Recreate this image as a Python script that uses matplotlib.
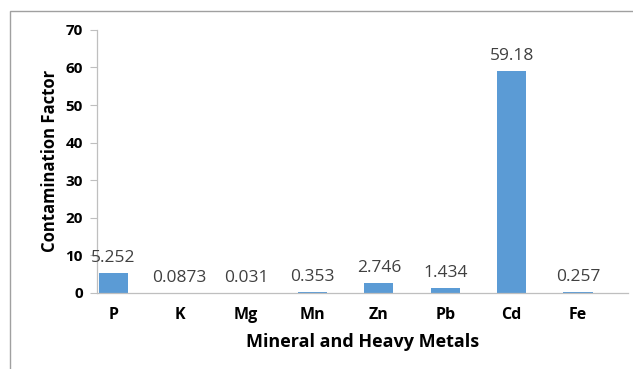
import matplotlib.pyplot as plt
from matplotlib.patches import Rectangle

plt.rcParams["font.family"] = "Open Sans"

# Contamination factor per element
metals = ["P", "K", "Mg", "Mn", "Zn", "Pb", "Cd", "Fe"]
cf_values = [5.252, 0.0873, 0.031, 0.353, 2.746, 1.434, 59.18, 0.257]
cf_labels = ["5.252", "0.0873", "0.031", "0.353", "2.746", "1.434", "59.18", "0.257"]
y_ticks = [0, 10, 20, 30, 40, 50, 60, 70]

BAR_COLOR = "#5B9BD5"
AXIS_GRAY = "#BFBFBF"

fig = plt.figure(figsize=(6.33, 3.69), dpi=100)
ax = fig.add_axes([0.153, 0.206, 0.839, 0.713])

x = range(len(metals))
bars = ax.bar(x, cf_values, width=0.44, color=BAR_COLOR, zorder=2)

for bar, lab in zip(bars, cf_labels):
    ax.annotate(lab, (bar.get_x() + bar.get_width() / 2, bar.get_height()),
                xytext=(0, 5), textcoords="offset points",
                ha="center", va="bottom", fontsize=12.5, color="#404040")

ax.set_xlim(-0.248, 7.753)
ax.set_ylim(0, 70)
ax.set_yticks(y_ticks)
ax.set_xticks(list(x))
ax.set_xticklabels(metals, fontsize=11.5, fontweight="bold")
ax.set_yticklabels([str(t) for t in y_ticks], fontsize=11, fontweight="bold")

ax.tick_params(axis="x", length=0, pad=10)
ax.tick_params(axis="y", length=5, width=0.8, color=AXIS_GRAY, pad=5)

for side in ["top", "right"]:
    ax.spines[side].set_visible(False)
for side in ["left", "bottom"]:
    ax.spines[side].set_color(AXIS_GRAY)
    ax.spines[side].set_linewidth(0.9)

ax.set_xlabel("Mineral and Heavy Metals", fontsize=13, fontweight="bold", labelpad=7)
ax.set_ylabel("Contamination Factor", fontsize=12, fontweight="bold", labelpad=5)

# outer chart frame, running off the right and bottom edges
fig.patches.append(Rectangle((10 / 633, -0.1), 1.1, 1 - 11 / 369 + 0.1,
                             transform=fig.transFigure, fill=False,
                             edgecolor="#A0A0A0", linewidth=1.0))

fig.savefig("out.png", dpi=100, facecolor="white")
